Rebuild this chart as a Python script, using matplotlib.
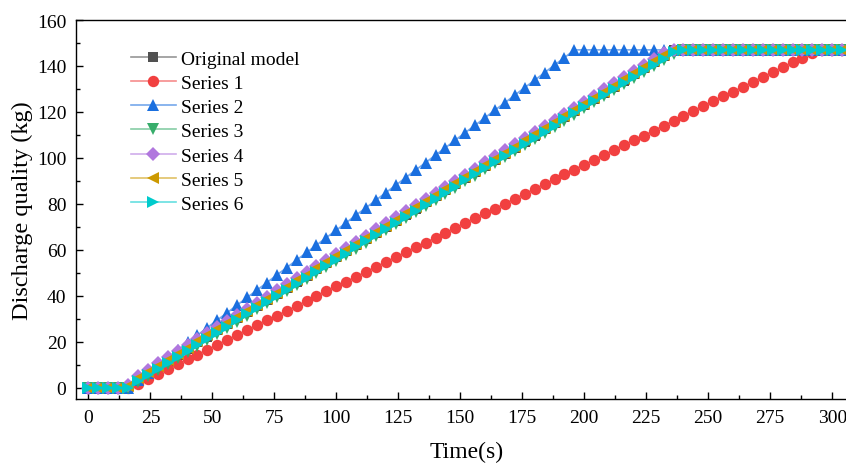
import matplotlib
matplotlib.use("Agg")
import matplotlib.pyplot as plt
from matplotlib.ticker import MultipleLocator

plt.rcParams['font.family'] = ['Liberation Serif', 'DejaVu Serif']
plt.rcParams['mathtext.fontset'] = 'stix'

time_s = [0, 4, 8, 12, 16, 20, 24, 28, 32, 36, 40, 44, 48, 52, 56, 60, 64, 68, 72, 76,
          80, 84, 88, 92, 96, 100, 104, 108, 112, 116, 120, 124, 128, 132, 136, 140,
          144, 148, 152, 156, 160, 164, 168, 172, 176, 180, 184, 188, 192, 196, 200,
          204, 208, 212, 216, 220, 224, 228, 232, 236, 240, 244, 248, 252, 256, 260,
          264, 268, 272, 276, 280, 284, 288, 292, 296, 300, 304]

original_model = [0, 0, 0, 0, 0,
                  3.7, 6.3, 9.0, 11.6, 14.3, 16.9, 19.6, 22.2, 24.9, 27.5,
                  30.2, 32.8, 35.5, 38.1, 40.8, 43.4, 46.1, 48.7, 51.4, 54.0,
                  56.7, 59.3, 62.0, 64.6, 67.3, 70.0, 72.6, 75.3, 77.9, 80.6,
                  83.2, 85.9, 88.5, 91.2, 93.8, 96.5, 99.1, 101.8, 104.4, 107.1,
                  109.7, 112.4, 115.0, 117.7, 120.3, 123.0, 125.6, 128.3, 130.9, 133.6,
                  136.3, 138.9, 141.6, 144.2, 146.9,
                  147, 147, 147, 147, 147, 147, 147, 147, 147, 147, 147, 147, 147, 147, 147, 147, 147]

series_1 = [0, 0, 0, 0, 0,
            1.6, 3.7, 5.8, 8.0, 10.1, 12.2, 14.3, 16.4, 18.6, 20.7,
            22.8, 24.9, 27.0, 29.2, 31.3, 33.4, 35.5, 37.6, 39.8, 41.9,
            44.0, 46.1, 48.2, 50.4, 52.5, 54.6, 56.7, 58.8, 61.0, 63.1,
            65.2, 67.3, 69.4, 71.6, 73.7, 75.8, 77.9, 80.0, 82.2, 84.3,
            86.4, 88.5, 90.6, 92.8, 94.9, 97.0, 99.1, 101.2, 103.4, 105.5,
            107.6, 109.7, 111.8, 114.0, 116.1, 118.2, 120.3, 122.4, 124.6, 126.7,
            128.8, 130.9, 133.0, 135.2, 137.3, 139.4, 141.5, 143.6, 145.8,
            147, 147, 147]

series_2 = [0, 0, 0, 0, 0,
            3.3, 6.5, 9.8, 13.1, 16.3, 19.6, 22.8, 26.1, 29.4, 32.6,
            35.9, 39.2, 42.4, 45.7, 49.0, 52.2, 55.5, 58.8, 62.0, 65.3,
            68.5, 71.8, 75.1, 78.3, 81.6, 84.9, 88.1, 91.4, 94.7, 97.9,
            101.2, 104.4, 107.7, 111.0, 114.2, 117.5, 120.8, 124.0, 127.3, 130.6,
            133.8, 137.1, 140.4, 143.6,
            147, 147, 147, 147, 147, 147, 147, 147, 147, 147, 147, 147, 147, 147,
            147, 147, 147, 147, 147, 147, 147, 147, 147, 147, 147, 147, 147, 147]

series_3 = [0, 0, 0, 0, 0,
            2.2, 4.8, 7.5, 10.1, 12.8, 15.4, 18.1, 20.7, 23.4, 26.0,
            28.7, 31.3, 34.0, 36.6, 39.3, 41.9, 44.6, 47.2, 49.9, 52.5,
            55.2, 57.8, 60.5, 63.1, 65.8, 68.5, 71.1, 73.8, 76.4, 79.1,
            81.7, 84.4, 87.0, 89.7, 92.3, 95.0, 97.6, 100.3, 102.9, 105.6,
            108.2, 110.9, 113.5, 116.2, 118.8, 121.5, 124.1, 126.8, 129.4, 132.1,
            134.8, 137.4, 140.1, 142.7, 145.4,
            147, 147, 147, 147, 147, 147, 147, 147, 147, 147, 147, 147, 147, 147, 147, 147, 147]

series_4 = [0, 0, 0, 0, 1.0,
            5.2, 7.8, 10.5, 13.1, 15.8, 18.4, 21.1, 23.7, 26.4, 29.0,
            31.7, 34.3, 37.0, 39.6, 42.3, 44.9, 47.6, 50.2, 52.9, 55.5,
            58.2, 60.8, 63.5, 66.1, 68.8, 71.5, 74.1, 76.8, 79.4, 82.1,
            84.7, 87.4, 90.0, 92.7, 95.3, 98.0, 100.6, 103.3, 105.9, 108.6,
            111.2, 113.9, 116.5, 119.2, 121.8, 124.5, 127.1, 129.8, 132.4, 135.1,
            137.8, 140.4, 143.1, 145.7,
            147, 147, 147, 147, 147, 147, 147, 147, 147, 147, 147, 147, 147, 147, 147, 147, 147, 147]

series_5 = [0, 0, 0, 0, 0.5,
            4.2, 6.8, 9.5, 12.1, 14.8, 17.4, 20.1, 22.7, 25.4, 28.0,
            30.7, 33.3, 36.0, 38.6, 41.3, 43.9, 46.6, 49.2, 51.9, 54.5,
            57.2, 59.8, 62.5, 65.1, 67.8, 70.5, 73.1, 75.8, 78.4, 81.1,
            83.7, 86.4, 89.0, 91.7, 94.3, 97.0, 99.6, 102.3, 104.9, 107.6,
            110.2, 112.9, 115.5, 118.2, 120.8, 123.5, 126.1, 128.8, 131.4, 134.1,
            136.8, 139.4, 142.1, 144.7,
            147, 147, 147, 147, 147, 147, 147, 147, 147, 147, 147, 147, 147, 147, 147, 147, 147, 147]

series_6 = [0, 0, 0, 0, 0,
            2.7, 5.3, 8.0, 10.6, 13.3, 15.9, 18.6, 21.2, 23.9, 26.5,
            29.2, 31.8, 34.5, 37.1, 39.8, 42.4, 45.1, 47.7, 50.4, 53.0,
            55.7, 58.3, 61.0, 63.6, 66.3, 69.0, 71.6, 74.3, 76.9, 79.6,
            82.2, 84.9, 87.5, 90.2, 92.8, 95.5, 98.1, 100.8, 103.4, 106.1,
            108.7, 111.4, 114.0, 116.7, 119.3, 122.0, 124.6, 127.3, 129.9, 132.6,
            135.3, 137.9, 140.6, 143.2, 145.9,
            147, 147, 147, 147, 147, 147, 147, 147, 147, 147, 147, 147, 147, 147, 147, 147, 147]

labels = ["Original model", "Series 1", "Series 2", "Series 3", "Series 4", "Series 5", "Series 6"]
colors = ["#515151", "#F14040", "#1A6FDF", "#37AD6B", "#B177DE", "#CC9900", "#00CBCC"]
markers = ["s", "o", "^", "v", "D", "<", ">"]
msizes = [7.5, 8.2, 9, 9, 7, 9, 9]
data = [original_model, series_1, series_2, series_3, series_4, series_5, series_6]

fig = plt.figure(figsize=(8.46, 4.64), dpi=100)
ax = fig.add_axes([76/846, 1 - 400/464, 781/846, (400 - 21)/464])

for y, lab, c, m, ms in zip(data, labels, colors, markers, msizes):
    ax.plot(time_s, y, color=matplotlib.colors.to_rgba(c, 0.6), lw=1.2, label=lab,
            marker=m, markersize=ms, markeredgewidth=0, markerfacecolor=c)

ax.set_xlim(-5, 310)
ax.set_ylim(-5, 160)
ax.xaxis.set_major_locator(MultipleLocator(25))
ax.xaxis.set_minor_locator(MultipleLocator(12.5))
ax.yaxis.set_major_locator(MultipleLocator(20))
ax.yaxis.set_minor_locator(MultipleLocator(10))
ax.tick_params(which='major', direction='in', length=5, width=1.0, labelsize=14, pad=7)
ax.tick_params(which='minor', direction='in', length=3, width=1.0)
ax.tick_params(top=False, right=False, which='both')
for s in ax.spines.values():
    s.set_linewidth(1.0)

ax.set_xlabel("Time(s)", fontsize=17, labelpad=11)
ax.set_ylabel("Discharge quality (kg)", fontsize=17.5, labelpad=3)

leg = fig.legend(loc='upper left', bbox_to_anchor=(131/846, 1 - 51/464),
                 frameon=False, fontsize=14, handlelength=2.3, handletextpad=0.25,
                 labelspacing=0.34, borderpad=0, borderaxespad=0)

fig.savefig("out.png", dpi=100)
